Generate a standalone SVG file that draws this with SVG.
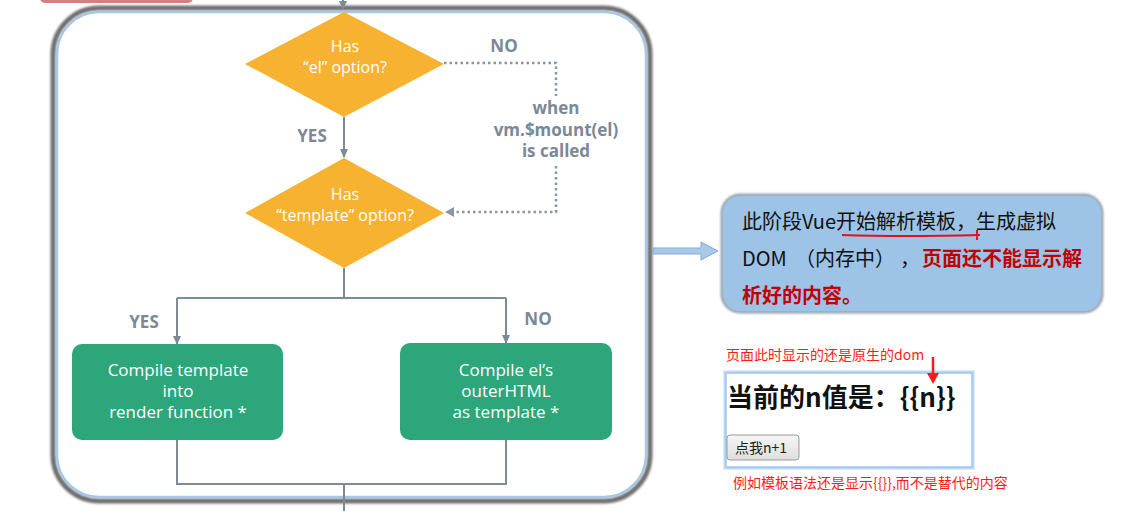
<svg xmlns="http://www.w3.org/2000/svg" width="1136" height="511" viewBox="0 0 1136 511">
<style>
.lbl{font-family:"Open Sans","Liberation Sans",sans-serif;font-weight:700;fill:#7b8896;font-size:17px;text-anchor:middle}
.wt{font-family:"Open Sans","Liberation Sans",sans-serif;fill:#ffffff;font-size:16px;text-anchor:middle}
.gt{font-family:"Open Sans","Liberation Sans",sans-serif;fill:#ffffff;font-size:17px;text-anchor:middle}
.dia{fill:#f8b232}
.box{fill:#2ea67b}
.ln{fill:none;stroke:#7d8a97;stroke-width:2}
.dot{fill:none;stroke:#8a96a2;stroke-width:2.5;stroke-dasharray:2.5 3}
.cn{font-family:"Noto Sans CJK SC","Noto Sans",sans-serif}
.red{fill:#ff1a1a}
</style>
<defs>
<marker id="ah" markerWidth="10" markerHeight="10" refX="8" refY="5" orient="auto" markerUnits="userSpaceOnUse">
<path d="M0,1 L9,5 L0,9 Z" fill="#7d8a97"/>
</marker>
<filter id="blur" x="-5%" y="-5%" width="110%" height="110%"><feGaussianBlur stdDeviation="1.2"/></filter>
<linearGradient id="btn" x1="0" y1="0" x2="0" y2="1"><stop offset="0" stop-color="#f6f6f6"/><stop offset="1" stop-color="#dedede"/></linearGradient>
</defs>
<rect width="1136" height="511" fill="#ffffff"/>
<rect x="40" y="-8" width="153" height="11" rx="5" fill="#c96b6b" opacity="0.85"/>
<g id="container">
<rect x="53" y="8" width="597" height="493" rx="46" fill="none" stroke="#6f6f6f" stroke-width="5" filter="url(#blur)"/>
<rect x="57" y="12" width="589" height="485" rx="42" fill="#ffffff" stroke="#a8c6e6" stroke-width="2.5"/>
</g>
<g id="connectors">
<path class="ln" d="M343,0 L343,9" marker-end="url(#ah)"/>
<path class="ln" d="M344,117 L344,157" marker-end="url(#ah)"/>
<path class="dot" d="M444,63 L556,63 L556,96"/>
<path class="dot" d="M556,166 L556,212 L449,212"/>
<path d="M445,212 L454,207 L454,217 Z" fill="#8a96a2"/>
<path class="ln" d="M344,268 L344,298 M177,298 L506,298"/>
<path class="ln" d="M177,298 L177,344" marker-end="url(#ah)"/>
<path class="ln" d="M506,298 L506,343" marker-end="url(#ah)"/>
<path class="ln" d="M177,440 L177,484 L506,484 L506,440 M344,484 L344,511"/>
<path d="M653,248 L701,248 L701,242 L718,251 L701,260 L701,254 L653,254 Z" fill="#aac9e8" stroke="#86a9cc" stroke-width="1"/>
<text class="lbl" x="504" y="52">NO</text>
<text class="lbl" x="312" y="142">YES</text>
<text class="lbl" x="556" y="114">when</text>
<text class="lbl" x="556" y="136">vm.$mount(el)</text>
<text class="lbl" x="556" y="157">is called</text>
<text class="lbl" x="144" y="328">YES</text>
<text class="lbl" x="538" y="325">NO</text>
</g>
<g id="d1">
<polygon class="dia" points="344,12 444,64 344,117 245,64"/>
<text class="wt" x="345" y="52">Has</text>
<text class="wt" x="345" y="73">“el” option?</text>
</g>
<g id="d2">
<polygon class="dia" points="344,158 444,213 344,268 245,213"/>
<text class="wt" x="345" y="200">Has</text>
<text class="wt" x="345" y="221">“template” option?</text>
</g>
<g id="b1">
<rect class="box" x="72" y="344" width="211" height="96" rx="10"/>
<text class="gt" x="178" y="376">Compile template</text>
<text class="gt" x="178" y="397">into</text>
<text class="gt" x="178" y="418">render function *</text>
</g>
<g id="b2">
<rect class="box" x="400" y="343" width="212" height="97" rx="10"/>
<text class="gt" x="506" y="376">Compile el’s</text>
<text class="gt" x="506" y="397">outerHTML</text>
<text class="gt" x="506" y="418">as template *</text>
</g>
<g id="callout">
<rect x="722" y="195" width="380" height="117" rx="18" fill="#9ec3e6" stroke="#9aa4ae" stroke-width="3" filter="url(#blur)"/>
<rect x="723" y="196" width="378" height="115" rx="17" fill="#9dc3e6"/>
<text class="cn" x="742" y="229" font-size="20" fill="#111111">此阶段Vue开始解析模板，生成虚拟</text>
<text class="cn" y="266" font-size="20" fill="#111111"><tspan x="742">DOM</tspan><tspan x="795">（内存中）</tspan><tspan x="900">，</tspan><tspan x="922" fill="#c00000" font-weight="700">页面还不能显示解</tspan></text>
<text class="cn" x="742" y="303" font-size="20" fill="#c00000" font-weight="700">析好的内容。</text>
<path d="M842,235 Q900,237 980,235 M977,230 L977,240" stroke="#e0141e" stroke-width="2" fill="none"/>
</g>
<g id="note1">
<text class="cn red" x="726" y="360" font-size="14">页面此时显示的还是原生的dom</text>
</g>
<g id="page">
<rect x="725" y="372" width="248" height="96" fill="#ffffff" stroke="#bcd8f7" stroke-width="3"/>
<rect x="726" y="373" width="246" height="94" fill="none" stroke="#8fbcee" stroke-width="1"/>
<text class="cn" x="727" y="407" font-size="26" font-weight="700" fill="#111111">当前的n值是：{{n}}</text>
<rect x="727" y="435" width="72" height="25" rx="3" fill="url(#btn)" stroke="#9a9a9a" stroke-width="1"/>
<text class="cn" x="735" y="453" font-size="14" fill="#222222">点我n+1</text>
</g>
<g id="redarrow">
<path d="M933,357 L933,376" stroke="#ff1a1a" stroke-width="2.5" fill="none"/>
<path d="M927,373 L933,384 L939,373 Z" fill="#ff1a1a"/>
</g>
<g id="note2">
<text class="cn red" x="733" y="488" font-size="14">例如模板语法还是显示{{}},而不是替代的内容</text>
</g>
</svg>
